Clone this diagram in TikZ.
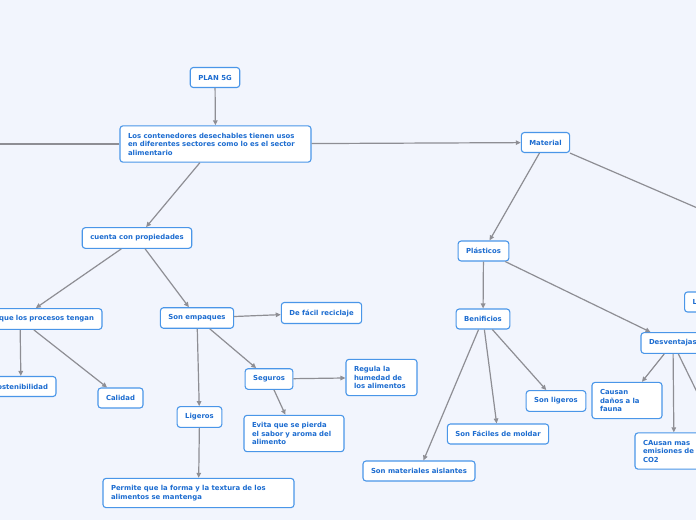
\documentclass[tikz,border=0pt]{standalone}
\usepackage{fontspec}
\setmainfont{DejaVu Sans}
\usetikzlibrary{arrows.meta}

\definecolor{mapbg}{RGB}{242,245,253}
\definecolor{boxline}{RGB}{74,150,232}
\definecolor{boxtext}{RGB}{28,108,208}
\definecolor{linkgray}{RGB}{142,142,148}

\begin{document}
\begin{tikzpicture}[
  x=1pt,y=-1pt,
  idea/.style={draw=boxline,line width=1.1pt,rounded corners=3pt,fill=white,text=boxtext,
    font=\fontsize{6.9}{8.5}\selectfont\bfseries,inner xsep=8pt,inner ysep=7pt,minimum height=20pt},
  note/.style={idea,text width=#1,align=left},
  arr/.style={-{Triangle[length=5pt,width=4.5pt]},draw=linkgray,line width=1.2pt}
]
  \path[use as bounding box,fill=mapbg] (0,0) rectangle (696,520);
  \clip (0,0) rectangle (696,520);

  % centre branch
  \node[idea] (plan) at (215,77.5) {PLAN 5G};
  \node[note=175pt] (usos) at (215.5,144) {Los contenedores desechables tienen usos\\en diferentes sectores como lo es el sector\\alimentario};
  \node[idea] (material) at (545.5,142.5) {Material};
  \coordinate (offleft) at (-40,144);
  \coordinate (offright) at (760,235);

  % propiedades
  \node[idea] (propiedades) at (137,238) {cuenta con propiedades};
  \node[note=148pt,align=right] (procesos) at (20,319) {que los procesos tengan};
  \node[note=54pt,align=right] (sostenibilidad) at (21,386.5) {ostenibilidad};
  \node[idea] (calidad) at (120.5,398) {Calidad};
  \node[idea] (empaques) at (197,318) {Son empaques};
  \node[idea] (reciclaje) at (321.5,313) {De fácil reciclaje};
  \node[idea] (seguros) at (269,379) {Seguros};
  \node[note=55pt] (humedad) at (381.5,377.5) {Regula la\\humedad de\\los alimentos};
  \node[note=84pt] (sabor) at (294,433.5) {Evita que se pierda\\el sabor y aroma del\\alimento};
  \node[idea] (ligeros) at (199.5,417) {Ligeros};
  \node[note=175pt] (textura) at (198.5,493) {Permite que la forma y la textura de los\\alimentos se mantenga};

  % material
  \node[idea] (plasticos) at (483.5,251) {Plásticos};
  \node[idea] (beneficios) at (483,319) {Benificios};
  \node[idea] (sonligeros) at (556,401) {Son ligeros};
  \node[idea] (moldar) at (498,434) {Son Fáciles de moldar};
  \node[idea] (aislantes) at (419,471) {Son materiales aislantes};
  \node[note=48pt] (desventajas) at (673,343) {Desventajas};
  \node[note=54pt] (fauna) at (627,400.5) {Causan\\daños a la\\fauna};
  \node[note=62pt] (emisiones) at (674,451) {CAusan mas\\emisiones de\\CO2};
  \node[idea,anchor=west,text width=24pt,align=left] (lnode) at (684,302) {L};
  \coordinate (offdown) at (742,484);

  \draw[arr] (plan) -- (usos);
  \draw[arr] (usos) -- (offleft);
  \draw[arr] (usos) -- (propiedades);
  \draw[arr] (usos) -- (material);
  \draw[arr] (material) -- (plasticos);
  \draw[arr] (material) -- (offright);
  \draw[arr] (propiedades) -- (procesos);
  \draw[arr] (propiedades) -- (empaques);
  \draw[arr] (procesos) -- (sostenibilidad);
  \draw[arr] (procesos) -- (calidad);
  \draw[arr] (empaques) -- (reciclaje);
  \draw[arr] (empaques) -- (ligeros);
  \draw[arr] (empaques) -- (seguros);
  \draw[arr] (seguros) -- (humedad);
  \draw[arr] (seguros) -- (sabor);
  \draw[arr] (ligeros) -- (textura);
  \draw[arr] (plasticos) -- (beneficios);
  \draw[arr] (plasticos) -- (desventajas);
  \draw[arr] (beneficios) -- (aislantes);
  \draw[arr] (beneficios) -- (moldar);
  \draw[arr] (beneficios) -- (sonligeros);
  \draw[arr] (desventajas) -- (fauna);
  \draw[arr] (desventajas) -- (emisiones);
  \draw[arr] (desventajas) -- (offdown);
\end{tikzpicture}
\end{document}
